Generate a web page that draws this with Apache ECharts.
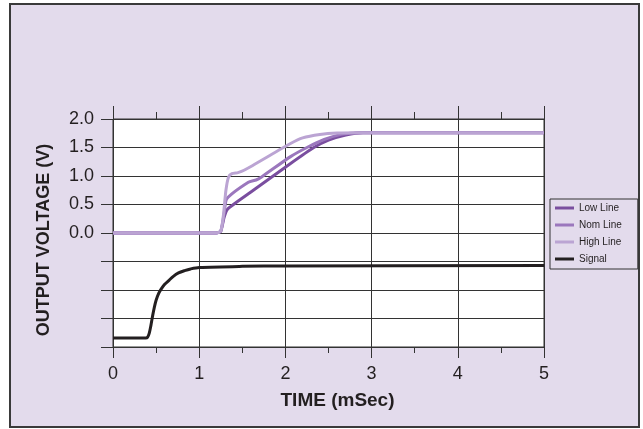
<!DOCTYPE html>
<html>
<head>
<meta charset="utf-8">
<script src="https://cdn.jsdelivr.net/npm/echarts@6/dist/echarts.min.js"></script>
<style>
  html, body { margin: 0; padding: 0; background: #fff; }
  #frame { position: absolute; left: 9px; top: 3px; width: 627px; height: 421px;
           border: 2px solid #3a3a3a; background: #e3dbec; }
  #chart { position: absolute; left: 0; top: 0; width: 643px; height: 429px; }
</style>
</head>
<body>
<div id="frame"></div>
<div id="chart"></div>
<script>
// ---- data (time in mSec, value in V) ----
var lowLine = [
  [0, 0], [1.2, 0], [1.25, 0.03], [1.29, 0.28], [1.33, 0.42], [1.6, 0.72],
  [2.06, 1.22], [2.33, 1.5], [2.5, 1.63], [2.7, 1.72], [2.9, 1.76], [5, 1.76]
];
var nomLine = [
  [0, 0], [1.2, 0], [1.25, 0.03], [1.29, 0.35], [1.32, 0.6], [1.57, 0.89],
  [1.66, 0.93], [1.72, 0.98], [2.06, 1.34], [2.25, 1.5], [2.45, 1.64],
  [2.65, 1.73], [2.85, 1.76], [5, 1.76]
];
var highLine = [
  [0, 0], [1.2, 0], [1.25, 0.03], [1.28, 0.3], [1.31, 0.75], [1.34, 0.98],
  [1.38, 1.04], [1.45, 1.06], [1.52, 1.1], [2.06, 1.57], [2.2, 1.67],
  [2.4, 1.73], [2.6, 1.755], [2.9, 1.76], [5, 1.76]
];
var signalLine = [
  [0, -1.84], [0.38, -1.84], [0.4, -1.83], [0.42, -1.76], [0.44, -1.62],
  [0.46, -1.45], [0.48, -1.3], [0.5, -1.18], [0.53, -1.06], [0.56, -0.98],
  [0.6, -0.9], [0.65, -0.83], [0.7, -0.76], [0.76, -0.7], [0.83, -0.66],
  [0.9, -0.63], [1.0, -0.605], [1.5, -0.585], [2.0, -0.578], [5, -0.57]
];
var seriesNames = ["Low Line", "Nom Line", "High Line", "Signal"];
var seriesColors = ["#7a4e9f", "#9b77bd", "#bba4d3", "#231f20"];

var chart = echarts.init(document.getElementById("chart"), null, { renderer: "canvas" });

var FONT = "'Liberation Sans', Arial, sans-serif";
var INK = "#231f20";

function lineSeries(name, data, color, smooth) {
  return {
    name: name,
    type: "line",
    data: data,
    smooth: smooth,
    symbol: "none",
    lineStyle: { width: 3, color: color },
    itemStyle: { color: color },
    z: 3
  };
}

chart.setOption({
  backgroundColor: "transparent",
  animation: false,
  textStyle: { fontFamily: FONT },
  grid: {
    left: 113, right: 99, top: 119, bottom: 82,
    show: true, backgroundColor: "#fff", borderColor: "#333", borderWidth: 1
  },
  legend: {
    orient: "vertical",
    left: 550, top: 199,
    data: seriesNames,
    icon: "rect",
    itemWidth: 19, itemHeight: 3, itemGap: 7,
    padding: [4, 16, 5, 5],
    borderColor: "#333", borderWidth: 1,
    textStyle: { fontSize: 10, color: INK, fontFamily: FONT }
  },
  xAxis: [
    {
      type: "value", position: "bottom",
      min: 0, max: 5, interval: 1,
      name: "TIME (mSec)", nameLocation: "middle", nameGap: 44,
      nameTextStyle: { fontSize: 19, fontWeight: "bold", color: INK, padding: [0, 0, 0, 18] },
      axisLine: { show: true, onZero: false, lineStyle: { color: "#333", width: 1 } },
      axisTick: { show: true, length: 11, lineStyle: { color: "#333" } },
      minorTick: { show: true, splitNumber: 2, length: 6, lineStyle: { color: "#333" } },
      axisLabel: { fontSize: 18, color: INK, margin: 18 },
      splitLine: { show: true, lineStyle: { color: "#333", width: 1 } }
    },
    {
      type: "value", position: "top",
      min: 0, max: 5, interval: 1,
      axisLine: { show: true, onZero: false, lineStyle: { color: "#333", width: 1 } },
      axisTick: { show: true, length: 13, lineStyle: { color: "#333" } },
      minorTick: { show: true, splitNumber: 2, length: 7, lineStyle: { color: "#333" } },
      axisLabel: { show: false },
      splitLine: { show: false }
    }
  ],
  yAxis: {
    type: "value",
    min: -2, max: 2, interval: 0.5,
    name: "OUTPUT VOLTAGE (V)", nameLocation: "middle", nameGap: 60,
    nameTextStyle: { fontSize: 18, fontWeight: "bold", color: INK, padding: [0, 14, 0, 0] },
    axisLine: { show: true, onZero: false, lineStyle: { color: "#333", width: 1 } },
    axisTick: { show: true, length: 12, lineStyle: { color: "#333" } },
    axisLabel: {
      fontSize: 18, color: INK, margin: 19,
      formatter: function (v) { return v >= 0 ? v.toFixed(1) : ""; }
    },
    splitLine: { show: true, lineStyle: { color: "#333", width: 1 } }
  },
  series: [
    lineSeries(seriesNames[0], lowLine, seriesColors[0], 0.2),
    lineSeries(seriesNames[1], nomLine, seriesColors[1], 0.2),
    lineSeries(seriesNames[2], highLine, seriesColors[2], 0.2),
    lineSeries(seriesNames[3], signalLine, seriesColors[3], 0.3)
  ]
});
</script>
</body>
</html>
